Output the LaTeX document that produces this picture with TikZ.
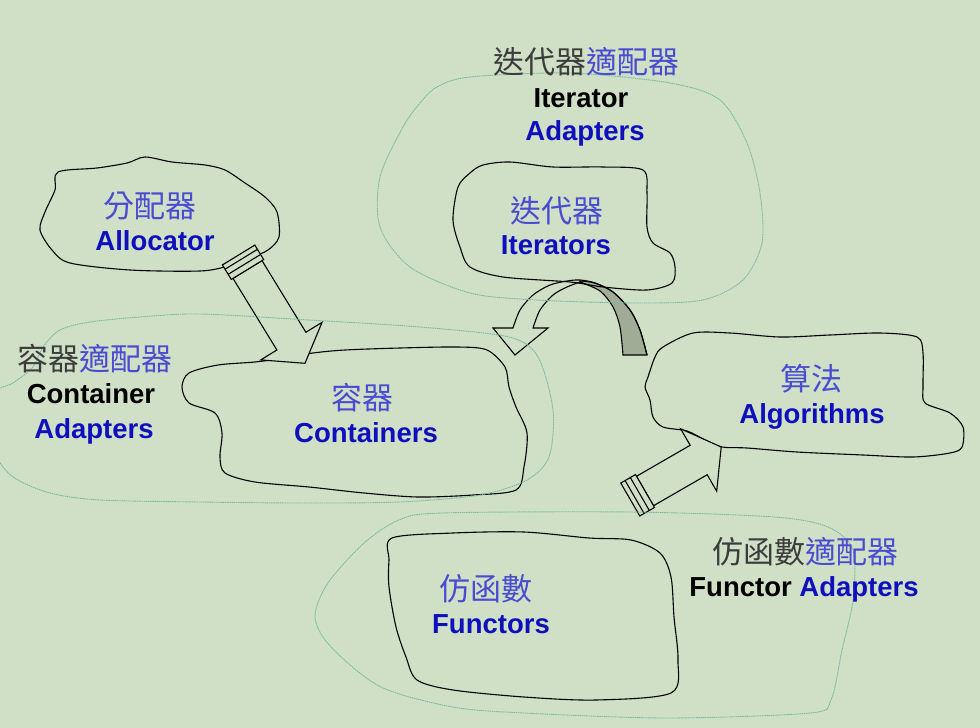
\documentclass[tikz,border=0pt]{standalone}
\usepackage{fontspec}
\setmainfont{Liberation Sans}
\newfontfamily\cjk{Noto Sans CJK TC}
\definecolor{bgc}{RGB}{207,224,198}
\definecolor{halocol}{RGB}{120,185,160}
\definecolor{latblue}{RGB}{15,15,190}
\definecolor{cjkblue}{RGB}{75,75,210}
\definecolor{cjkblack}{RGB}{60,60,60}
\definecolor{grayc}{RGB}{160,172,150}
\tikzset{
  lat/.style={font=\fontsize{27.5}{30}\selectfont\bfseries, anchor=base, inner sep=0pt},
  han/.style={font=\fontsize{31}{34}\selectfont\cjk, anchor=base, inner sep=0pt},
  blob/.style={draw=black, line width=1.1pt},
  halo/.style={draw=halocol, line width=0.9pt, dash pattern=on 1.5pt off 0.7pt},
  blockarrow/.style={draw=black, line width=1.1pt, fill=bgc, line join=miter},
}
\begin{document}
\begin{tikzpicture}[x=1pt,y=-1pt]
\fill[bgc] (0,0) rectangle (980,728);
\useasboundingbox (0,0) rectangle (980,728);

% curved arrow (drawn first, blob lines pass over it)
\draw[fill=grayc, line width=1.1pt] plot[smooth] coordinates {(580,281) (595,283) (613,292) (630,310) (640,330) (647,355)} -- (623,355) -- plot[smooth] coordinates {(623,355) (620,327) (613,307) (600,291) (580,282)} -- cycle;
\draw[line width=1.1pt] plot[smooth] coordinates {(647,355) (640,330) (630,310) (613,292) (595,283) (580,280) (567,281) (550,285) (533,295) (520,310) (513,328)} -- (493,328) -- (515,355) -- (548,328) -- (533,328) -- plot[smooth] coordinates {(533,328) (540,310) (553,295) (567,287) (580,282)};

% blobs
\draw[blob] plot[smooth cycle] coordinates {(58,172) (97,168) (127,163) (145,157) (172,162) (205,165) (225,170) (245,183) (265,197) (277,212) (279,237) (268,250) (250,258) (228,266) (200,271) (130,270) (70,263) (52,250) (40,230) (45,212) (55,190)};
\draw[blob] plot[smooth cycle] coordinates {(218,365) (189,373) (182,387) (189,403) (215,413) (222,433) (220,457) (225,473) (255,482) (309,487) (364,493) (418,497) (473,495) (516,490) (524,467) (527,433) (516,407) (509,387) (505,367) (487,350) (458,347) (400,348) (345,350) (313,353) (285,358) (255,362)};
\draw[blob] plot[smooth cycle] coordinates {(483,165) (510,162) (553,167) (603,167) (643,170) (647,193) (647,227) (653,243) (670,253) (675,267) (672,283) (647,290) (603,287) (570,282) (503,277) (470,267) (460,247) (453,220) (458,187) (470,173)};
\draw[blob] plot[smooth cycle] coordinates {(693,333) (730,333) (780,337) (830,335) (880,333) (917,337) (923,353) (923,387) (925,403) (950,413) (963,427) (962,447) (950,453) (913,457) (863,455) (797,452) (747,448) (722,447) (705,440) (687,431) (663,427) (653,417) (650,400) (645,387) (648,377) (655,357) (663,347)};
\draw[blob] plot[smooth cycle] coordinates {(392,538) (453,533) (524,532) (589,538) (631,540) (660,553) (671,577) (674,617) (678,660) (671,693) (596,700) (524,697) (453,690) (417,680) (406,657) (396,627) (389,587) (389,560)};

% straight block arrows
\begin{scope}[shift={(247.5,269.5)}, rotate=-58.5]
  \draw[blockarrow] (0,-17) -- (84,-17) -- (84,-36) -- (110,0) -- (84,36) -- (84,17) -- (0,17) -- cycle;
  \draw[blockarrow] (-17,-19) rectangle (0,19);
  \draw[line width=1.1pt] (-12,-19) -- (-12,19) (-6,-19) -- (-6,19);
\end{scope}
\begin{scope}[shift={(645,491)}, rotate=30]
  \draw[blockarrow] (0,-17) -- (62,-17) -- (62,-36) -- (88,0) -- (62,36) -- (62,17) -- (0,17) -- cycle;
  \draw[blockarrow] (-17,-19) rectangle (0,19);
  \draw[line width=1.1pt] (-12,-19) -- (-12,19) (-6,-19) -- (-6,19);
\end{scope}

% adapter outlines
\draw[halo] plot[smooth cycle] coordinates {(437,87) (470,77) (570,73) (670,83) (720,100) (747,143) (760,193) (762,243) (743,280) (703,300) (637,303) (537,300) (470,293) (410,267) (380,227) (380,177) (403,127) (420,103)};
\draw[halo] plot[smooth cycle] coordinates {(60,330) (90,322) (140,317) (200,314) (309,320) (420,327) (509,337) (538,357) (553,410) (549,457) (527,480) (480,495) (400,502) (300,503) (200,502) (100,500) (50,493) (13,477) (-5,453) (-8,420) (-5,392) (13,383) (33,367) (43,347)};
\draw[halo] plot[smooth cycle] coordinates {(399,520) (442,513) (631,512) (774,517) (828,527) (853,550) (853,600) (842,650) (831,700) (810,713) (667,718) (524,713) (453,707) (381,687) (331,647) (315,617) (328,583) (364,543)};

% labels
\node[han, text=cjkblue] (allocH) at (150,217) {分配器};
\node[lat, text=latblue] (allocL) at (155,250) {Allocator};
\node[han] (itadH) at (586,73) {\textcolor{cjkblack}{迭代器}\textcolor{cjkblue}{適配器}};
\node[lat, text=black] (itadL1) at (581,107) {Iterator};
\node[lat, text=latblue] (itadL2) at (585,140) {Adapters};
\node[han, text=cjkblue] (itH) at (557,222) {迭代器};
\node[lat, text=latblue] (itL) at (556,254) {Iterators};
\node[han] (coadH) at (95,370) {\textcolor{cjkblack}{容器}\textcolor{cjkblue}{適配器}};
\node[lat, text=black] (coadL1) at (91,403) {Container};
\node[lat, text=latblue] (coadL2) at (94,438) {Adapters};
\node[han, text=cjkblue] (coH) at (362,409) {容器};
\node[lat, text=latblue] (coL) at (366,442) {Containers};
\node[han, text=cjkblue] (alH) at (811,390) {算法};
\node[lat, text=latblue] (alL) at (812,423) {Algorithms};
\node[han] (fuadH) at (805,563) {\textcolor{cjkblack}{仿函數}\textcolor{cjkblue}{適配器}};
\node[lat] (fuadL) at (804,596) {\textcolor{black}{Functor} \textcolor{latblue}{Adapters}};
\node[han, text=cjkblue] (fuH) at (486,600) {仿函數};
\node[lat, text=latblue] (fuL) at (491,633) {Functors};
\end{tikzpicture}
\end{document}
